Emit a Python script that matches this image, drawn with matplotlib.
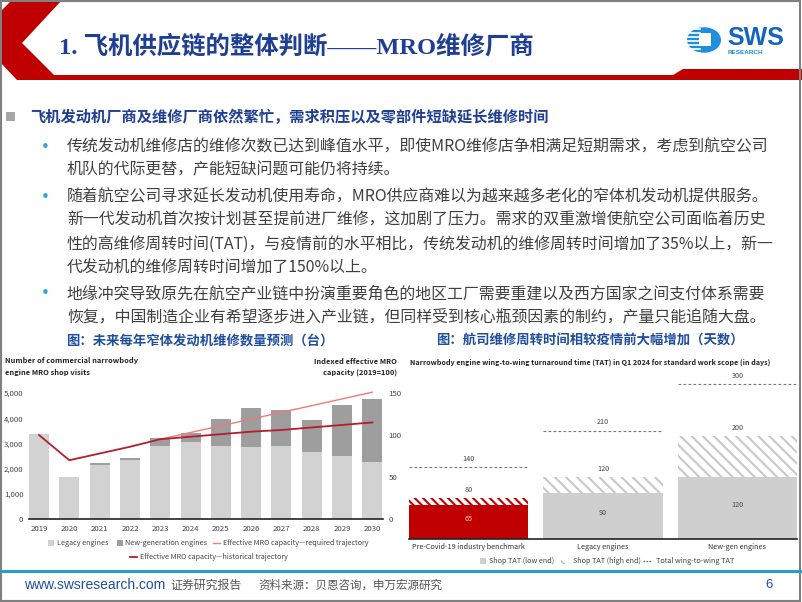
import matplotlib
matplotlib.use('Agg')
import matplotlib.pyplot as plt
from matplotlib.patches import Rectangle, Polygon, Circle
from matplotlib.lines import Line2D

plt.rcParams['font.family'] = ['Noto Sans CJK SC', 'DejaVu Sans']
plt.rcParams['hatch.linewidth'] = 1.5

# ---- data: left chart (narrowbody engine shop visits + MRO capacity index)
years = ['2019', '2020', '2021', '2022', '2023', '2024', '2025', '2026', '2027', '2028', '2029', '2030']
legacy_visits = [3380, 1650, 2140, 2340, 2880, 3040, 2900, 2840, 2900, 2660, 2500, 2260]
newgen_visits = [0, 0, 70, 80, 340, 380, 1080, 1550, 1420, 1280, 2010, 2490]
hist_capacity = [100, 70, 78, 86, 95, 98, 101, 104, 106, 109, 112, 115]
req_years_idx = [4, 5, 6, 7, 8, 9, 10, 11]
req_capacity = [95, 103, 111, 119, 127, 135, 143, 151]

# ---- data: right chart (turnaround time, days)
tat_groups = ['Pre-Covid-19 industry benchmark', 'Legacy engines', 'New-gen engines']
shop_low = [65, 90, 120]
shop_high = [80, 120, 200]
total_w2w = [140, 210, 300]

W, H = 802, 602
fig = plt.figure(figsize=(8.02, 6.02), dpi=100)
fig.patch.set_facecolor('white')


def fx(x):
    return x / W


def fy(y):
    return 1 - y / H


def axes_px(left, top, right, bottom):
    return fig.add_axes([fx(left), fy(bottom), (right - left) / W, (bottom - top) / H])


def frect(x, y, w, h, **kw):
    fig.add_artist(Rectangle((fx(x), fy(y + h)), w / W, h / H, transform=fig.transFigure, **kw))


def fline(x1, x2, y, **kw):
    fig.add_artist(Line2D([fx(x1), fx(x2)], [fy(y), fy(y)], transform=fig.transFigure, **kw))


red = '#C00000'
navy = '#1F3F94'
blue_title = '#1F4E9E'
small = 5.2

# ---- header shape
hdr = [(0, 12), (12, 0), (62, 0), (22, 43), (54, 75), (673, 75), (683, 69), (802, 69),
       (802, 80), (17, 80), (0, 62)]
fig.add_artist(Polygon([(fx(a), fy(b)) for a, b in hdr], closed=True, transform=fig.transFigure,
                       facecolor=red, edgecolor='none'))
fig.text(fx(59), fy(47), '1. 飞机供应链的整体判断——MRO维修厂商', fontsize=17.6, fontweight='bold',
         color=navy, va='center', ha='left', family=['Liberation Serif', 'Noto Sans CJK SC'])

# logo
fig.add_artist(Circle((fx(704), fy(40)), 17 / W, transform=fig.transFigure, facecolor='#1E8FDA',
                      edgecolor='none'))
for yy in [29, 33, 37, 41, 45, 49, 53]:
    fline(686, 700, yy, color='white', lw=1.2)
frect(699, 33, 12, 13, facecolor='white', edgecolor='none')
fig.text(fx(727), fy(38), 'SWS', fontsize=18, fontweight='bold', color='#1565C0', va='center',
         ha='left', family='Liberation Sans')
fig.text(fx(728), fy(52), 'RESEARCH', fontsize=4.6, fontweight='bold', color='#1E8FDA', va='center',
         ha='left', family='Liberation Sans')

# ---- section heading and bullets
frect(6, 112, 9, 9, facecolor='#A6A6A6', edgecolor='none')
fig.text(fx(30), fy(117), '飞机发动机厂商及维修厂商依然繁忙，需求积压以及零部件短缺延长维修时间',
         fontsize=10.95, fontweight='bold', color=navy, va='center', ha='left')

bullets = [
    ['传统发动机维修店的维修次数已达到峰值水平，即使MRO维修店争相满足短期需求，考虑到航空公司',
     '机队的代际更替，产能短缺问题可能仍将持续。'],
    ['随着航空公司寻求延长发动机使用寿命，MRO供应商难以为越来越多老化的窄体机发动机提供服务。',
     '新一代发动机首次按计划甚至提前进厂维修，这加剧了压力。需求的双重激增使航空公司面临着历史',
     '性的高维修周转时间(TAT)，与疫情前的水平相比，传统发动机的维修周转时间增加了35%以上，新一',
     '代发动机的维修周转时间增加了150%以上。'],
    ['地缘冲突导致原先在航空产业链中扮演重要角色的地区工厂需要重建以及西方国家之间支付体系需要',
     '恢复，中国制造企业有希望逐步进入产业链，但同样受到核心瓶颈因素的制约，产量只能追随大盘。'],
]
line_y = [[147, 170], [197, 220, 244, 268], [294, 317]]
for para, ys in zip(bullets, line_y):
    fig.text(fx(41), fy(ys[0]), '•', fontsize=11, color='#2FA8D5', va='center', ha='left',
             family='DejaVu Sans')
    for txt, yy in zip(para, ys):
        fig.text(fx(67), fy(yy), txt, fontsize=11.45, color='#404040', va='center', ha='left')

# ---- chart titles
fig.text(fx(200), fy(341), '图：未来每年窄体发动机维修数量预测（台）', fontsize=9.6, fontweight='bold',
         color=blue_title, va='center', ha='center')
fig.text(fx(590), fy(341), '图：航司维修周转时间相较疫情前大幅增加（天数）', fontsize=9.6, fontweight='bold',
         color=blue_title, va='center', ha='center')

# ---- left chart
ax = axes_px(29, 388, 383, 519)
xs = list(range(len(years)))
ax.bar(xs, legacy_visits, width=0.66, color='#D2D2D2', zorder=2)
ax.bar(xs, newgen_visits, width=0.66, bottom=legacy_visits, color='#9E9E9E', zorder=2)
ax.set_xlim(-0.33, 11.35)
ax.set_ylim(0, 5200)
ax.set_yticks([0, 1000, 2000, 3000, 4000, 5000])
ax.set_yticklabels(['0', '1,000', '2,000', '3,000', '4,000', '5,000'])
ax.set_xticks(xs)
ax.set_xticklabels(years)
ax.tick_params(length=0, labelsize=5.6, labelcolor='#444444', pad=4)
for sp in ['top', 'right', 'left']:
    ax.spines[sp].set_visible(False)
ax.spines['bottom'].set_color('#222222')
ax.spines['bottom'].set_linewidth(1.2)
ax.set_facecolor('none')

ax2 = ax.twinx()
ax2.set_ylim(0, 156)
ax2.plot(xs, hist_capacity, color='#B71C2C', lw=1.3, zorder=4)
ax2.plot(req_years_idx, req_capacity, color='#F07A78', lw=1.0, zorder=3)
ax2.set_yticks([0, 50, 100, 150])
ax2.tick_params(length=0, labelsize=5.6, labelcolor='#444444', pad=4)
for sp in ['top', 'right', 'left', 'bottom']:
    ax2.spines[sp].set_visible(False)

fig.text(fx(5), fy(361), 'Number of commercial narrowbody', fontsize=5.4, fontweight='bold',
         color='#222222', va='center', ha='left')
fig.text(fx(5), fy(372), 'engine MRO shop visits', fontsize=5.4, fontweight='bold',
         color='#222222', va='center', ha='left')
fig.text(fx(397), fy(361), 'Indexed effective MRO', fontsize=5.4, fontweight='bold',
         color='#222222', va='center', ha='right')
fig.text(fx(397), fy(372), 'capacity (2019=100)', fontsize=5.4, fontweight='bold',
         color='#222222', va='center', ha='right')

# left legend
frect(48, 540, 6, 6, facecolor='#D2D2D2', edgecolor='none')
fig.text(fx(57), fy(543), 'Legacy engines', fontsize=small, color='#444444', va='center')
frect(117, 540, 6, 6, facecolor='#9E9E9E', edgecolor='none')
fig.text(fx(125), fy(543), 'New-generation engines', fontsize=small, color='#444444', va='center')
fline(213, 220, 543, color='#F07A78', lw=1.0)
fig.text(fx(223), fy(543), 'Effective MRO capacity\u2014required trajectory', fontsize=small,
         color='#444444', va='center')
fline(130, 137, 557, color='#B71C2C', lw=1.3)
fig.text(fx(140), fy(557), 'Effective MRO capacity\u2014historical trajectory', fontsize=small,
         color='#444444', va='center')

# ---- right chart
bx = axes_px(409, 368.7, 797, 539)
gx = list(range(len(tat_groups)))
bw = 0.885
low_colors = [red, '#CFCFCF', '#CFCFCF']
hatch_colors = [red, '#C8C8C8', '#C8C8C8']
for i in gx:
    bx.bar(i, shop_low[i], width=bw, color=low_colors[i], zorder=2)
    bx.bar(i, shop_high[i] - shop_low[i], width=bw, bottom=shop_low[i], facecolor='white',
           edgecolor=hatch_colors[i], hatch='\\\\\\\\' if i == 0 else '\\\\\\', linewidth=0, zorder=2)
    bx.hlines(total_w2w[i], i - bw / 2, i + bw / 2, colors='#777777', linestyles=(0, (2.5, 2)), lw=0.8)
    bx.text(i, total_w2w[i] + 8, str(total_w2w[i]), ha='center', va='bottom', fontsize=small, color='#444444')
    bx.text(i, shop_high[i] + 8, str(shop_high[i]), ha='center', va='bottom', fontsize=small, color='#444444')
    bx.text(i, shop_low[i] / 2 + 6, str(shop_low[i]), ha='center', va='center', fontsize=small,
            color='#F4C6C6' if i == 0 else '#444444')
bx.set_xlim(-0.4424, 2.4424)
bx.set_ylim(0, 330)
bx.set_xticks(gx)
bx.set_xticklabels(tat_groups)
bx.set_yticks([])
bx.tick_params(length=0, labelsize=small, labelcolor='#333333', pad=3)
for sp in ['top', 'right', 'left']:
    bx.spines[sp].set_visible(False)
bx.spines['bottom'].set_color('#222222')
bx.spines['bottom'].set_linewidth(1.2)

fig.text(fx(410), fy(362), 'Narrowbody engine wing-to-wing turnaround time (TAT) in Q1 2024 for standard work scope (in days)',
         fontsize=5.15, fontweight='bold', color='#222222', va='center', ha='left')

# right legend
frect(480, 558, 6, 6, facecolor='#CFCFCF', edgecolor='none')
fig.text(fx(489), fy(561), 'Shop TAT (low end)', fontsize=small, color='#444444', va='center')
frect(561, 558, 8, 6, facecolor='white', edgecolor='#C8C8C8', hatch='\\\\\\', linewidth=0)
fig.text(fx(573), fy(561), 'Shop TAT (high end)', fontsize=small, color='#444444', va='center')
fline(643, 652, 561, color='#555555', lw=0.8, linestyle=(0, (1.5, 1.2)))
fig.text(fx(656), fy(561), 'Total wing-to-wing TAT', fontsize=small, color='#444444', va='center')

# ---- footer
fline(0, 802, 571, color='#2B9CD0', lw=2.2)
fig.text(fx(24), fy(585), 'www.swsresearch.com', fontsize=10, color='#1F4E9E', va='center',
         family='Liberation Sans')
fig.text(fx(170), fy(585), '证券研究报告', fontsize=8.6, color='#555555', va='center')
fig.text(fx(258), fy(585), '资料来源：贝恩咨询，申万宏源研究', fontsize=8.3, color='#555555', va='center')
fig.text(fx(765), fy(585), '6', fontsize=9.5, color='#1F4E9E', va='center', family='Liberation Sans')

# slide border
fig.add_artist(Rectangle((0.001, 0.001), 0.997, 0.997, transform=fig.transFigure, facecolor='none',
                         edgecolor='#808080', lw=1.5))

fig.savefig('out.png', dpi=100)
